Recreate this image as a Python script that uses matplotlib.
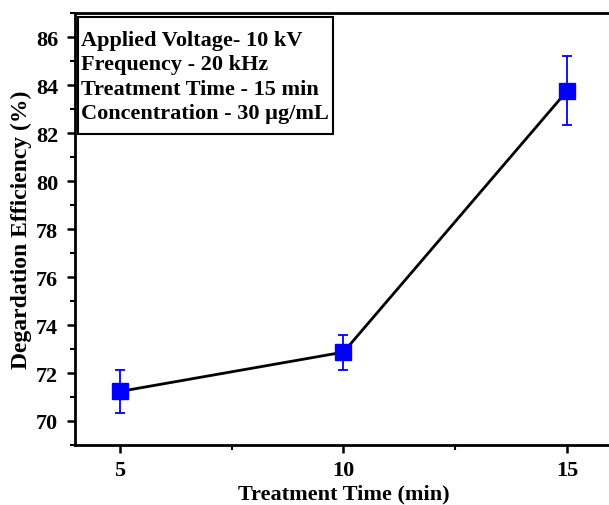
import matplotlib
matplotlib.use("Agg")
import matplotlib.pyplot as plt
from matplotlib.patches import Rectangle
from matplotlib.ticker import MultipleLocator

# Degradation efficiency vs treatment time
treatment_time = [5, 10, 15]
efficiency = [71.23, 72.87, 83.77]
efficiency_err = [0.90, 0.73, 1.43]

conditions = [
    "Applied Voltage- 10 kV",
    "Frequency - 20 kHz",
    "Treatment Time - 15 min",
    "Concentration - 30 \u00b5g/mL",
]

plt.rcParams['font.family'] = ['Liberation Serif', 'DejaVu Serif']
plt.rcParams['font.weight'] = 'bold'

fig = plt.figure(figsize=(6.09, 5.06), dpi=100)
ax = fig.add_axes([0.123, 0.1186, 0.882, 0.8534])

ax.plot(treatment_time, efficiency, color='black', linewidth=2.0, zorder=2)
ax.errorbar(treatment_time, efficiency, yerr=efficiency_err, fmt='s',
            color='blue', ecolor='blue', markersize=11, elinewidth=1.3,
            capsize=3.6, capthick=1.3, zorder=3)

ax.set_xlim(4, 16)
ax.set_ylim(69, 87)
ax.xaxis.set_major_locator(MultipleLocator(5))
ax.xaxis.set_minor_locator(MultipleLocator(2.5))
ax.yaxis.set_major_locator(MultipleLocator(2))
ax.yaxis.set_minor_locator(MultipleLocator(1))

ax.tick_params(which='major', direction='out', length=6, width=1.8, labelsize=16)
ax.tick_params(which='minor', direction='out', length=3.5, width=1.5)
ax.tick_params(axis='x', which='major', pad=5)
ax.tick_params(axis='y', which='major', pad=6)
ax.tick_params(top=False, right=False, which='both')

for side in ['left', 'bottom', 'top', 'right']:
    ax.spines[side].set_linewidth(2.0)

ax.set_xlabel("Treatment Time (min)", fontsize=16, fontweight='bold', labelpad=2.5)
ax.set_ylabel("Degardation Efficiency (%)", fontsize=17, fontweight='bold', labelpad=3)

# conditions box in the upper-left corner
ax.add_patch(Rectangle((0.0056, 0.72), 0.4748, 0.2707, transform=ax.transAxes,
                       facecolor='white', edgecolor='black', linewidth=1.5, zorder=4))
ax.text(0.012, 0.962, "\n".join(conditions), transform=ax.transAxes,
        ha='left', va='top', fontsize=16, fontweight='bold', linespacing=1.3, zorder=5)

fig.savefig("out.png", dpi=100)
